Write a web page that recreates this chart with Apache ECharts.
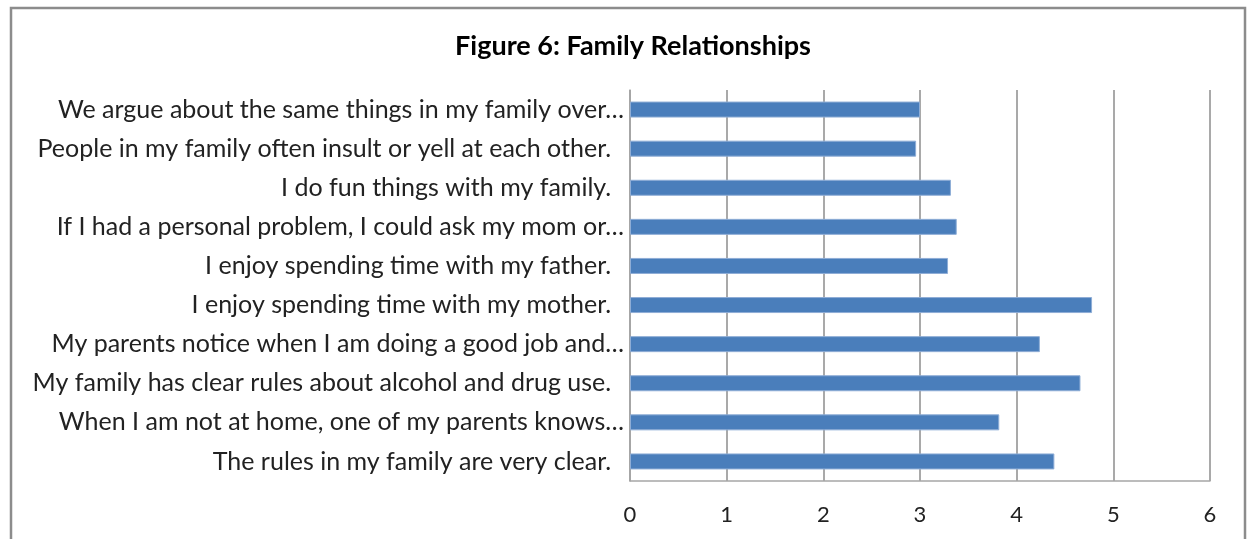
<!DOCTYPE html>
<html>
<head>
<meta charset="utf-8">
<script src="https://cdn.jsdelivr.net/npm/echarts@6/dist/echarts.min.js"></script>
<style>
html,body{margin:0;padding:0;background:#fff;}
#chart{width:1248px;height:539px;}
</style>
</head>
<body>
<div id="chart"></div>
<script>
// Categories, top to bottom as shown
var categories = [
  "We argue about the same things in my family over…",
  "People in my family often insult or yell at each other.  ",
  "I do fun things with my family.  ",
  "If I had a personal problem, I could ask my mom or…",
  "I enjoy spending time with my father.  ",
  "I enjoy spending time with my mother.  ",
  "My parents notice when I am doing a good job and…",
  "My family has clear rules about alcohol and drug use.  ",
  "When I am not at home, one of my parents knows…",
  "The rules in my family are very clear.  "
];
var values = [3.00, 2.96, 3.32, 3.38, 3.29, 4.78, 4.24, 4.66, 3.82, 4.39];
var xTicks = [0, 1, 2, 3, 4, 5, 6];
var titleText = "Figure 6: Family Relationships";

var chart = echarts.init(document.getElementById('chart'));
var font = 'Lato, "Open Sans", sans-serif';
chart.setOption({
  animation: false,
  backgroundColor: '#ffffff',
  title: {
    text: titleText,
    left: 628,
    textAlign: 'center',
    top: 28,
    textStyle: { fontFamily: font, fontSize: 27, fontWeight: 'bold', color: '#000' }
  },
  graphic: [{
    type: 'rect',
    shape: { x: 11, y: 8, width: 1234, height: 545 },
    style: { fill: 'none', stroke: '#8c8c8c', lineWidth: 2.5 },
    silent: true,
    z: 100
  }],
  grid: { left: 630, right: 38, top: 90, bottom: 58, containLabel: false },
  xAxis: {
    type: 'value',
    min: xTicks[0],
    max: xTicks[xTicks.length - 1],
    interval: 1,
    axisLine: { show: true, lineStyle: { color: '#a6a6a6', width: 1.5 } },
    axisTick: { show: false },
    splitLine: { show: true, lineStyle: { color: '#8c8c8c', width: 1.5 } },
    axisLabel: { margin: 23, fontFamily: font, fontSize: 22, color: '#222' }
  },
  yAxis: {
    type: 'category',
    inverse: true,
    data: categories,
    axisLine: { show: true, lineStyle: { color: '#a6a6a6', width: 1.5 } },
    axisTick: { show: false },
    axisLabel: { margin: 6, fontFamily: font, fontSize: 25, color: '#222' }
  },
  series: [{
    type: 'bar',
    data: values,
    barWidth: 16,
    itemStyle: { color: '#4a7ebb', borderColor: '#8eadd6', borderWidth: 1 }
  }]
});
</script>
</body>
</html>
